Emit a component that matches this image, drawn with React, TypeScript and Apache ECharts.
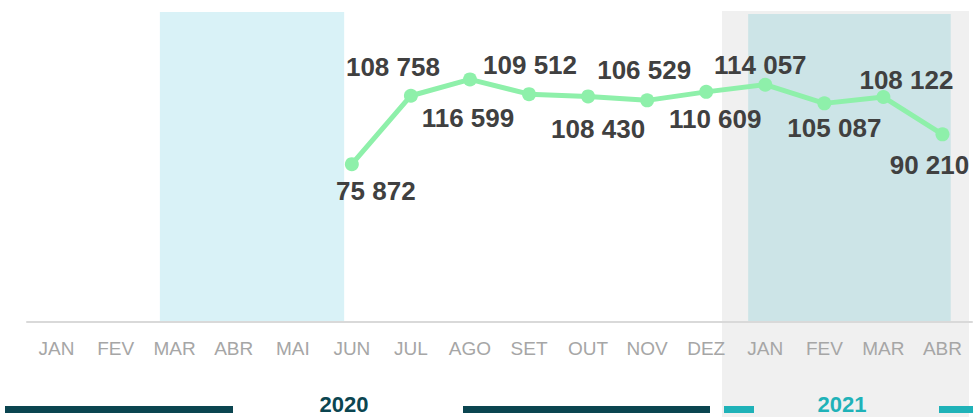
import React, { useEffect, useRef } from "react";
import * as echarts from "echarts";

const months = ["JAN", "FEV", "MAR", "ABR", "MAI", "JUN", "JUL", "AGO", "SET", "OUT", "NOV", "DEZ", "JAN", "FEV", "MAR", "ABR"];
const values: (number | null)[] = [null, null, null, null, null, 75872, 108758, 116599, 109512, 108430, 106529, 110609, 114057, 105087, 108122, 90210];
const labelOffsets: [number, number][] = [
  [0, 0], [0, 0], [0, 0], [0, 0], [0, 0],
  [24, 27], [-18, -29], [-2, 39], [1, -29], [10, 33], [-3, -30], [9, 27], [-5, -20], [10, 25], [23, -17], [-13, 31],
];
const years = ["2020", "2021"];

const fmt = (v: number) => {
  const s = String(Math.round(v));
  return s.replace(/\B(?=(\d{3})+(?!\d))/g, " ");
};

export default function App() {
  const ref = useRef<HTMLDivElement>(null);
  useEffect(() => {
    if (!ref.current) return;
    const chart = echarts.init(ref.current, null, { renderer: "svg" });
    const data = values.map((v, i) => ({
      value: v,
      label: { offset: labelOffsets[i] },
    }));
    chart.setOption({
      animation: false,
      grid: { left: 27, right: 1, top: 12, bottom: 95 },
      xAxis: [
        {
          type: "category",
          data: months,
          boundaryGap: true,
          axisLine: { lineStyle: { color: "#d9d9d9", width: 2 } },
          axisTick: { show: false },
          axisLabel: {
            color: "#a6a6a6",
            fontSize: 19,
            fontFamily: "Liberation Sans, Arial, sans-serif",
            margin: 17,
            interval: 0,
          },
          z: 5,
        },
        { type: "value", min: 0, max: 16, show: false },
      ],
      yAxis: {
        type: "value",
        min: 0,
        max: 149000,
        show: false,
        splitLine: { show: false },
      },
      graphic: [
        { type: "rect", z: -10, shape: { x: 722, y: 11, width: 247, height: 406 }, style: { fill: "#f0f0f0" } },
        { type: "rect", shape: { x: 5, y: 406, width: 228, height: 7 }, style: { fill: "#0b4550" } },
        { type: "rect", shape: { x: 463, y: 406, width: 247, height: 7 }, style: { fill: "#0b4550" } },
        { type: "rect", shape: { x: 724, y: 406, width: 30, height: 7 }, style: { fill: "#1fb2b8" } },
        { type: "rect", shape: { x: 939, y: 406, width: 34, height: 7 }, style: { fill: "#1fb2b8" } },
        {
          type: "text",
          x: 344,
          y: 404,
          style: {
            text: years[0],
            fill: "#0b4550",
            font: "bold 22px 'Liberation Sans', Arial, sans-serif",
            align: "center",
            verticalAlign: "middle",
          },
        },
        {
          type: "text",
          x: 842,
          y: 404,
          style: {
            text: years[1],
            fill: "#1fb2b8",
            font: "bold 22px 'Liberation Sans', Arial, sans-serif",
            align: "center",
            verticalAlign: "middle",
          },
        },
      ],
      series: [
        {
          type: "line",
          data,
          z: 3,
          lineStyle: { color: "#8ef0aa", width: 5 },
          itemStyle: { color: "#8ef0aa" },
          symbol: "circle",
          symbolSize: 14,
          showSymbol: true,
          label: {
            show: true,
            position: "inside",
            color: "#404040",
            fontSize: 26,
            fontWeight: "bold",
            fontFamily: "Liberation Sans, Arial, sans-serif",
            formatter: (p: any) => fmt(p.value),
          },
        },
        {
          type: "line",
          xAxisIndex: 1,
          data: [],
          z: 10,
          silent: true,
          markArea: {
            silent: true,
            data: [
              [
                { xAxis: 2.25, yAxis: 149000, itemStyle: { color: "rgba(0,168,202,0.15)" } },
                { xAxis: 5.37, yAxis: 0 },
              ],
              [
                { xAxis: 12.21, yAxis: 148000, itemStyle: { color: "rgba(0,160,180,0.15)" } },
                { xAxis: 15.64, yAxis: 0 },
              ],
            ],
          },
        },
      ],
    });
    return () => chart.dispose();
  }, []);
  return <div ref={ref} style={{ width: 973, height: 417, position: "absolute", left: 0, top: 0 }} />;
}
